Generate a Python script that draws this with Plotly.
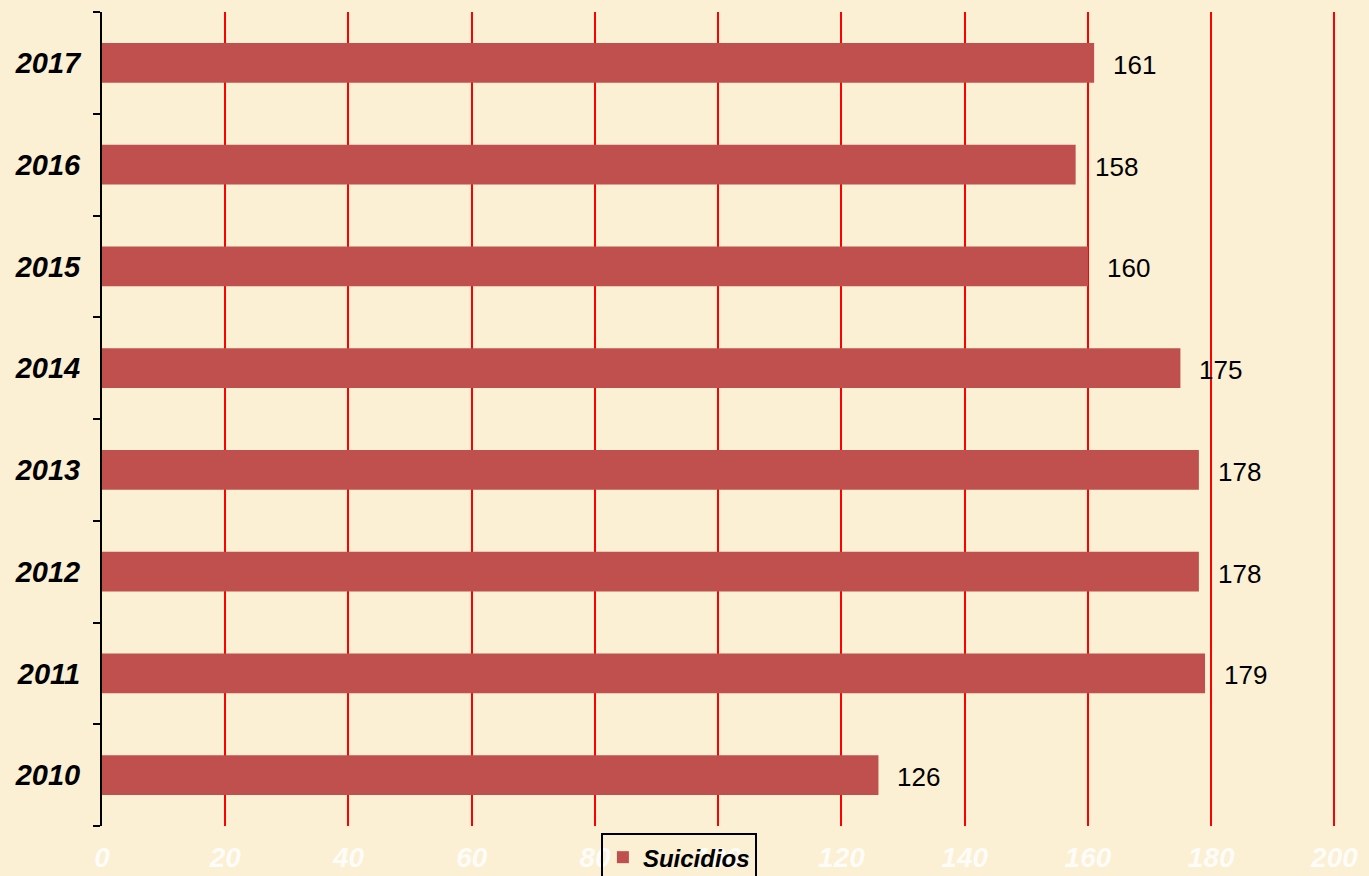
import plotly.graph_objects as go

years = ["2010", "2011", "2012", "2013", "2014", "2015", "2016", "2017"]
suicidios = [126, 179, 178, 178, 175, 160, 158, 161]
x_ticks = [0, 20, 40, 60, 80, 100, 120, 140, 160, 180, 200]
series_name = "Suicidios"

BG = "#FBEFD4"
BAR = "#C0504D"
FONT = "Arial, Liberation Sans, sans-serif"
NARROW = "Liberation Sans Narrow, Arial Narrow, Arial, sans-serif"

fig = go.Figure()
fig.add_trace(go.Bar(
    y=years, x=suicidios, orientation="h", name=series_name,
    marker=dict(color=BAR, line=dict(width=0)),
    width=0.39,
    showlegend=True,
))

for i, v in enumerate(suicidios):
    fig.add_annotation(
        x=v, y=i, xref="x", yref="y", text=str(v),
        showarrow=False, xanchor="left", yanchor="middle", xshift=17, yshift=-2,
        font=dict(family=FONT, size=26, color="black"),
    )

fig.update_layout(
    width=1369, height=876,
    paper_bgcolor=BG, plot_bgcolor=BG,
    margin=dict(l=102, r=33, t=12, b=50, autoexpand=False),
    showlegend=True,
    legend=dict(
        orientation="h", x=0.4675, xanchor="center",
        yref="container", y=0.049, yanchor="top",
        bgcolor="rgba(0,0,0,0)", bordercolor="black", borderwidth=2,
        font=dict(family=FONT, size=24, color="black", weight="bold", style="italic"),
        itemwidth=30,
    ),
    xaxis=dict(
        range=[0, 200.25], tickvals=x_ticks, ticktext=[str(t) for t in x_ticks],
        showgrid=True, gridcolor="#FF0000", gridwidth=2,
        zeroline=False, showline=False, ticks="",
        automargin=False,
        ticklabelstandoff=12,
        tickfont=dict(family=NARROW, size=28, color="rgba(255,255,255,0.85)",
                      weight="bold", style="italic"),
    ),
    yaxis=dict(
        type="category",
        categoryorder="array", categoryarray=years,
        range=[-0.5, len(years) - 0.5],
        showline=True, linecolor="black", linewidth=2,
        ticks="outside", ticklen=7, tickwidth=2, tickcolor="black",
        tickson="boundaries", showgrid=False, zeroline=False,
        automargin=False,
        ticklabelstandoff=14,
        tickfont=dict(family=FONT, size=29, color="black", weight="bold", style="italic"),
    ),
)

fig.write_html(
    "out.html",
    config={"displayModeBar": False},
    post_script="document.body.style.margin='0';document.body.style.background='" + BG + "';",
)
